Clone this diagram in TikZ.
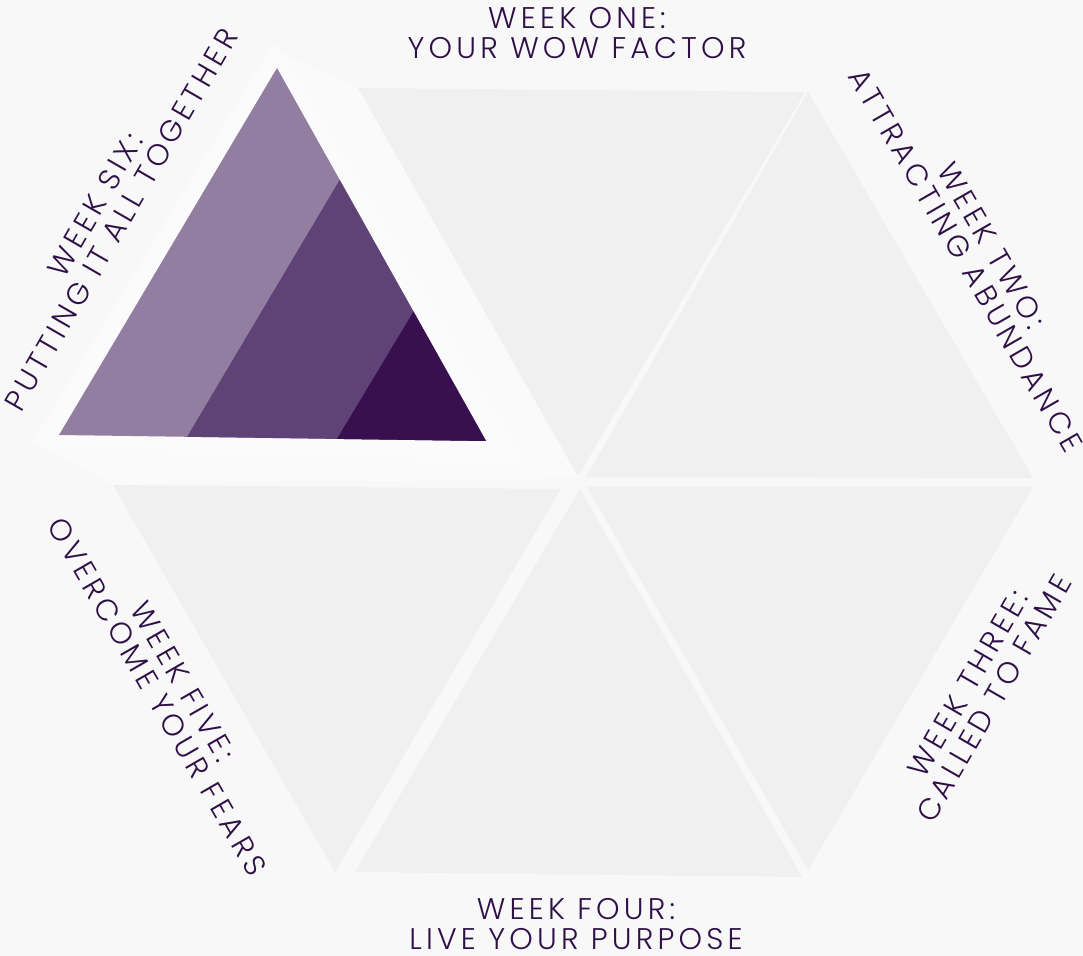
\documentclass[tikz,border=0pt]{standalone}
\usepackage{fontspec}
\setmainfont{Poppins Light}[LetterSpace=14]
\usepackage{xcolor}
\usepackage{tikz}
\usetikzlibrary{calc}

\definecolor{bgcol}{HTML}{F9F8F9}
\definecolor{slotgrey}{HTML}{F1F0F1}
\definecolor{lilac}{HTML}{917EA0}
\definecolor{plum}{HTML}{5F4276}
\definecolor{aubergine}{HTML}{380F4F}
\definecolor{inkpurple}{HTML}{2E1046}

\begin{document}
\begin{tikzpicture}[x=0.02cm, y=-0.02cm,
    slot/.style={fill=slotgrey},
    glow/.style={fill=white, fill opacity=0.35},
    weeklabel/.style={text=inkpurple, align=center, inner sep=0pt, font=\fontsize{17}{17}\selectfont}]
    \useasboundingbox (0,0) rectangle (1083,956);
    \fill[bgcol] (0,0) rectangle (1083,956);

    \fill[slot] (358,88) -- (805,92) -- (578,476) -- cycle;
    \fill[slot] (808,92) -- (586,477) -- (1033,478) -- cycle;
    \fill[slot] (587,487) -- (1033,487) -- (808,870) -- cycle;
    \fill[slot] (580,489) -- (355,872) -- (802,877) -- cycle;
    \fill[slot] (113,485) -- (561,489) -- (335,872) -- cycle;

    \fill[glow] (270,48) -- (358,88) -- (578,478) -- (113,485) -- (33,442) -- cycle;
    \fill[glow] (275,42) -- (30,446) -- (525,462) -- cycle;

    \coordinate (apex) at (277,68);
    \coordinate (left) at (59,435);
    \coordinate (right) at (486,441);
    \fill[lilac] (apex) -- (left) -- (right) -- cycle;
    \fill[plum] ($(apex)!0.3!(right)$) -- ($(left)!0.3!(right)$) -- (right) -- cycle;
    \fill[aubergine] ($(apex)!0.653!(right)$) -- ($(left)!0.651!(right)$) -- (right) -- cycle;

    \node[weeklabel] (one) at (577,33) {WEEK ONE:\\YOUR WOW FACTOR};
    \node[weeklabel, rotate=-60] (two) at (979,253) {WEEK TWO:\\ATTRACTING ABUNDANCE};
    \node[weeklabel, rotate=60] (three) at (981,691) {WEEK THREE:\\CALLED TO FAME};
    \node[weeklabel] (four) at (576,924) {WEEK FOUR:\\LIVE YOUR PURPOSE};
    \node[weeklabel, rotate=-60] (five) at (170,689) {WEEK FIVE:\\OVERCOME YOUR FEARS};
    \node[weeklabel, rotate=60] (six) at (108,212) {WEEK SIX:\\PUTTING IT ALL TOGETHER};
\end{tikzpicture}
\end{document}
